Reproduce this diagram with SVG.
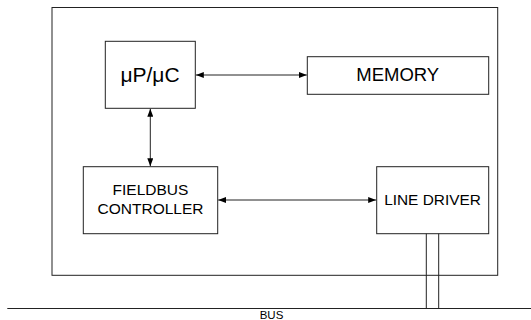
<svg xmlns="http://www.w3.org/2000/svg" width="531" height="320" viewBox="0 0 531 320">
  <style>
    .box { fill: #ffffff; stroke: #222222; stroke-width: 1; }
    .wire { fill: none; stroke: #222222; stroke-width: 1; }
    .lbl { font-family: "Liberation Sans", Arial, sans-serif; fill: #000000; text-anchor: middle; }
  </style>
  <defs>
    <marker id="ah" viewBox="0 0 8 6" refX="8" refY="3" markerWidth="8" markerHeight="6" markerUnits="userSpaceOnUse" orient="auto-start-reverse">
      <path d="M0,0 L8,3 L0,6 Z" fill="#000000"/>
    </marker>
  </defs>

  <rect width="531" height="320" fill="#ffffff"/>

  <!-- device enclosure -->
  <g id="device">
    <rect class="box" x="52" y="7.5" width="445.7" height="267.8"/>
  </g>

  <g id="cpu">
    <rect class="box" x="105.3" y="41.3" width="90" height="67"/>
    <text class="lbl" x="150" y="82" font-size="21">μP/μC</text>
  </g>

  <g id="memory">
    <rect class="box" x="307.3" y="56.7" width="181.4" height="37.6"/>
    <text class="lbl" x="397.7" y="81" font-size="18.5">MEMORY</text>
  </g>

  <g id="fieldbus-controller">
    <rect class="box" x="83.3" y="166.7" width="134.4" height="67"/>
    <text class="lbl" x="150.5" y="195" font-size="15.5">FIELDBUS</text>
    <text class="lbl" x="150.5" y="214" font-size="15.5">CONTROLLER</text>
  </g>

  <g id="line-driver">
    <rect class="box" x="376.7" y="166.7" width="112" height="67"/>
    <text class="lbl" x="432.5" y="205" font-size="15.4">LINE DRIVER</text>
  </g>

  <g id="bus">
    <line class="wire" x1="7.3" y1="308.5" x2="531" y2="308.5"/>
    <text class="lbl" x="271.5" y="319.3" font-size="11.5">BUS</text>
  </g>

  <!-- connectors -->
  <g id="connectors">
    <line class="wire" x1="195.8" y1="75" x2="306.8" y2="75" marker-start="url(#ah)" marker-end="url(#ah)"/>
    <line class="wire" x1="150.3" y1="108.8" x2="150.3" y2="166.2" marker-start="url(#ah)" marker-end="url(#ah)"/>
    <line class="wire" x1="218.2" y1="200" x2="376.2" y2="200" marker-start="url(#ah)" marker-end="url(#ah)"/>
    <line class="wire" stroke="#444444" x1="426.3" y1="233.7" x2="426.3" y2="308.5"/>
    <line class="wire" stroke="#444444" x1="438.7" y1="233.7" x2="438.7" y2="308.5"/>
  </g>
</svg>
